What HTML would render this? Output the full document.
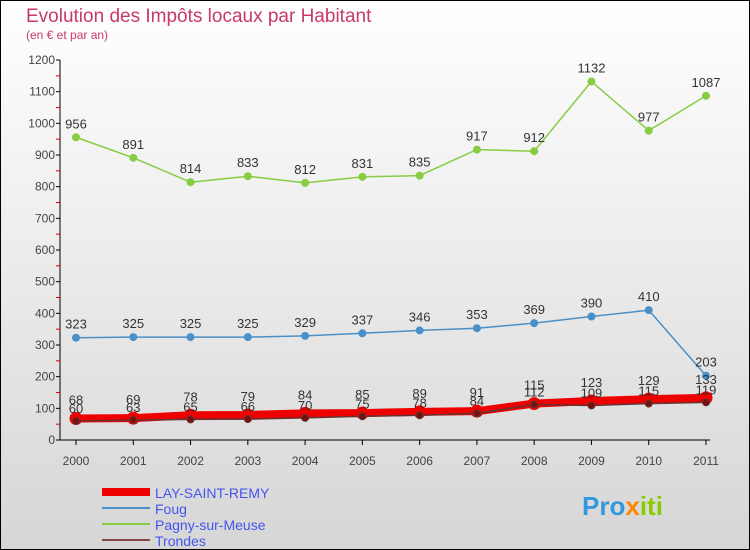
<!DOCTYPE html>
<html><head><meta charset="utf-8"><style>
body{margin:0;background:#fff}
svg{display:block;font-family:"Liberation Sans","DejaVu Sans",sans-serif}
</style></head><body>
<svg width="750" height="550">
<defs><linearGradient id="bg" x1="0" y1="0" x2="0" y2="1"><stop offset="0" stop-color="#ffffff"/><stop offset="1" stop-color="#d6d6d6"/></linearGradient></defs>
<rect x="0.5" y="0.5" width="749" height="549" fill="url(#bg)" stroke="#000"/>
<text x="26" y="22" font-size="19" fill="#c8386a">Evolution des Impôts locaux par Habitant</text>
<text x="26" y="39" font-size="12" fill="#c8386a">(en € et par an)</text>
<g id="axes"></g><g id="series"></g>
<g>
<line x1="102" y1="492" x2="150" y2="492" stroke="#ee0000" stroke-width="8"/>
<text x="155" y="498" font-size="14" fill="#4455ee">LAY-SAINT-REMY</text>
<line x1="102" y1="508" x2="150" y2="508" stroke="#4a90c8" stroke-width="2"/>
<text x="155" y="514" font-size="14" fill="#4455ee">Foug</text>
<line x1="102" y1="524" x2="150" y2="524" stroke="#88cc44" stroke-width="2"/>
<text x="155" y="530" font-size="14" fill="#4455ee">Pagny-sur-Meuse</text>
<line x1="102" y1="540" x2="150" y2="540" stroke="#884444" stroke-width="2"/>
<text x="155" y="546" font-size="14" fill="#4455ee">Trondes</text>
</g>
<text x="582" y="515" font-size="26" font-weight="bold" fill="#3399dd">Pro<tspan fill="#ff8800">x</tspan><tspan fill="#88cc00">iti</tspan></text>
</svg>
<script>
const years=[2000,2001,2002,2003,2004,2005,2006,2007,2008,2009,2010,2011];
const yTicks=[0,100,200,300,400,500,600,700,800,900,1000,1100,1200];
const lay=[68,69,78,79,84,85,89,91,115,123,129,133];
const foug=[323,325,325,325,329,337,346,353,369,390,410,203];
const pagny=[956,891,814,833,812,831,835,917,912,1132,977,1087];
const trondes=[60,63,65,66,70,75,78,84,112,109,115,119];
const NS="http://www.w3.org/2000/svg";
const X=i=>76+i*(630/11), Y=v=>440-v*380/1200;
function mk(t,a,p){const e=document.createElementNS(NS,t);for(const k in a)e.setAttribute(k,a[k]);p.appendChild(e);return e;}
const ax=document.getElementById('axes'), sg=document.getElementById('series');
let l=mk('line',{x1:60,y1:60,x2:60,y2:440,stroke:'#000'},ax);


l=mk('line',{x1:60,y1:440,x2:710,y2:440,stroke:'#000'},ax);


yTicks.forEach(v=>{mk('line',{x1:56,y1:Y(v),x2:60,y2:Y(v),stroke:'#000'},ax);
 if(v<1200)mk('line',{x1:56,y1:Y(v+50),x2:60,y2:Y(v+50),stroke:'#d00'},ax);
 const t=mk('text',{x:55,y:Y(v)+4,'font-size':12,'text-anchor':'end',fill:'#444'},ax);t.textContent=v;
 
 });
years.forEach((y,i)=>{mk('line',{x1:X(i),y1:440,x2:X(i),y2:445,stroke:'#000'},ax);
 const t=mk('text',{x:X(i),y:465,'font-size':12,'text-anchor':'middle',fill:'#444'},ax);t.textContent=y;
 
 });
function series(d,name,col,w,r,dot,lab,dy){
 const g=mk('g',{},sg);
 
 
 mk('polyline',{points:d.map((v,i)=>X(i)+','+Y(v)).join(' '),fill:'none',stroke:col,'stroke-width':w,'stroke-linejoin':'round'},g);
 d.forEach((v,i)=>{const c=mk('circle',{cx:X(i),cy:Y(v),r:r,fill:dot,stroke:col,'stroke-width':1},g);
  
  
  if(lab){const t=mk('text',{x:X(i),y:Y(v)+dy,'font-size':13,'text-anchor':'middle',fill:'#333'},g);t.textContent=v;}});
}
series(pagny,'pagny','#88cc44',1.5,3.5,'#88cc44',true,-9);
series(foug,'foug','#4a90c8',1.5,3.5,'#4a90c8',true,-9);
series(lay,'lay','#ee0000',8,6,'#ee0000',true,-14);
series(trondes,'trondes','#663333',1.5,3.5,'#771111',true,-8);
</script>
</body></html>
